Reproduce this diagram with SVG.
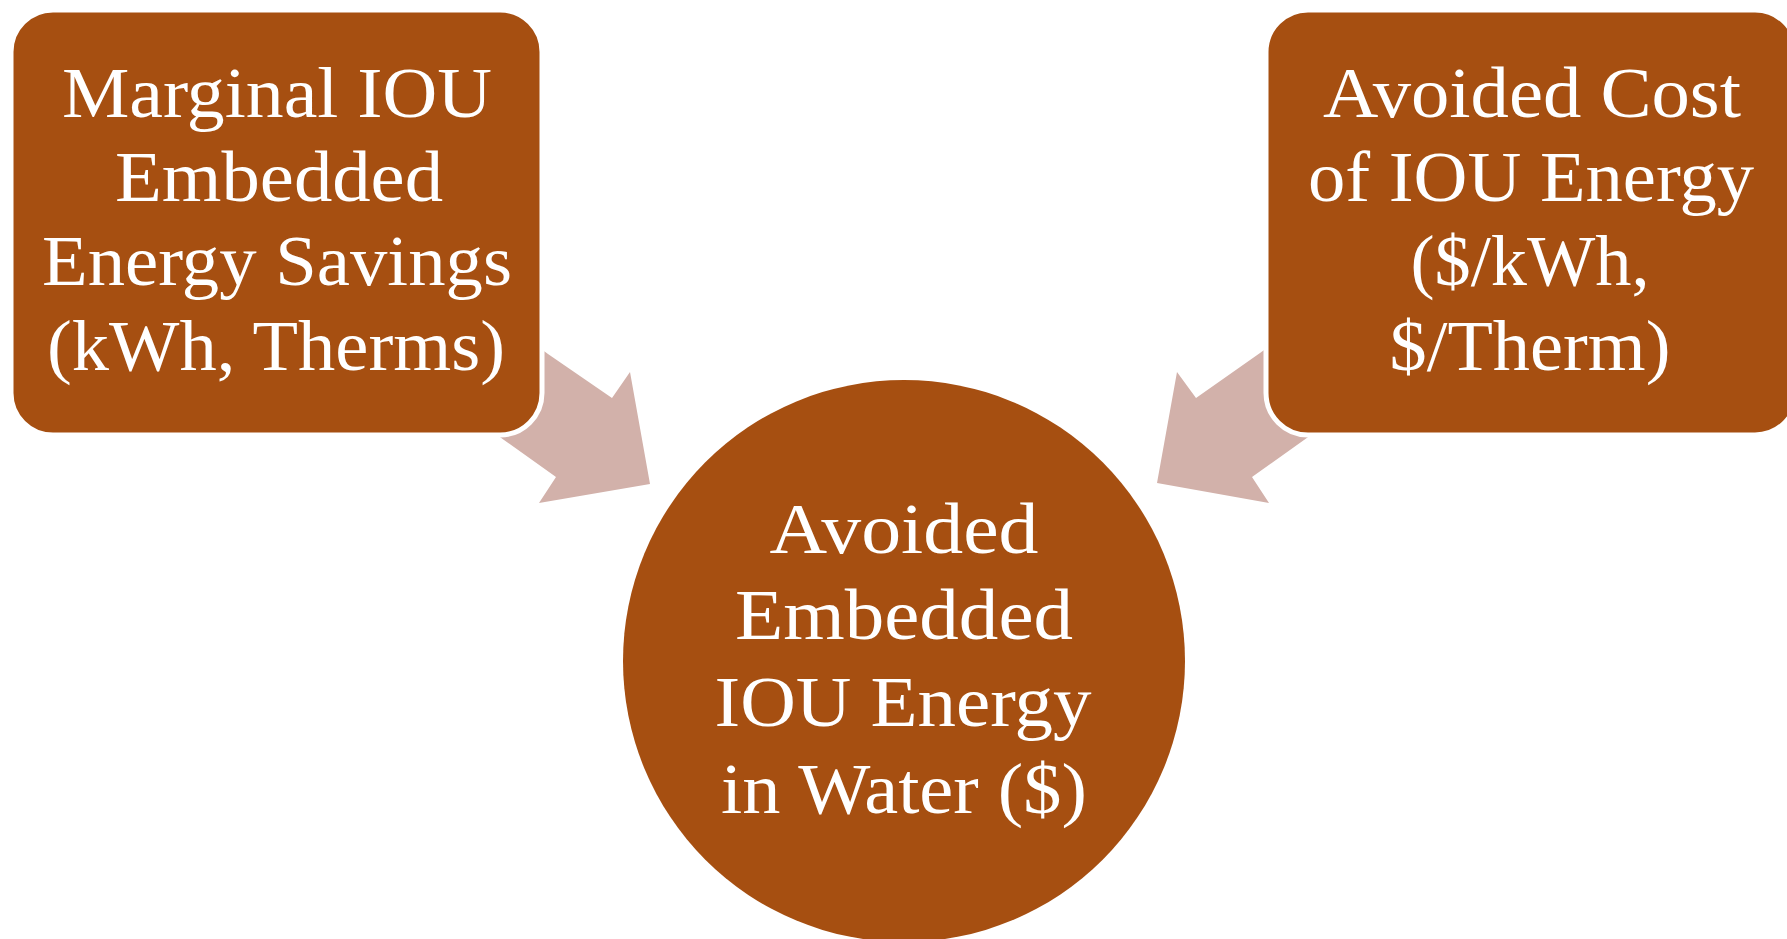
<svg xmlns="http://www.w3.org/2000/svg" width="1787" height="939" viewBox="0 0 1787 939">
<style>
.node{fill:#A64F11;stroke:#FFFFFF;stroke-width:5}
.hub{fill:#A64F11;stroke:none}
.arrow{fill:#D2B1AA;stroke:none}
.lbl{font-family:"Liberation Serif","DejaVu Serif",serif;font-size:72px;fill:#FFFFFF;text-anchor:middle}
</style>
<rect width="1787" height="939" fill="#FFFFFF"/>
<g id="connectors">
<polygon class="arrow" points="466,294 548,354 612,398 630,372 650,484 539,503 556,477 504,440 422,381"/>
<polygon class="arrow" points="1342,294 1260,353 1196,398 1177,372 1157,483 1269,503 1252,477 1304,440 1386,381"/>
</g>
<g id="node-marginal">
<rect class="node" x="11" y="10" width="531" height="425" rx="42" ry="42"/>
<text class="lbl" x="277" y="117" textLength="430" lengthAdjust="spacingAndGlyphs">Marginal IOU</text>
<text class="lbl" x="279" y="201" textLength="328" lengthAdjust="spacingAndGlyphs">Embedded</text>
<text class="lbl" x="277" y="285" textLength="470" lengthAdjust="spacingAndGlyphs">Energy Savings</text>
<text class="lbl" x="276" y="370" textLength="458" lengthAdjust="spacingAndGlyphs">(kWh, Therms)</text>
</g>
<g id="node-avoided-cost">
<rect class="node" x="1266" y="10" width="531" height="425" rx="42" ry="42"/>
<text class="lbl" x="1532" y="117" textLength="418" lengthAdjust="spacingAndGlyphs">Avoided Cost</text>
<text class="lbl" x="1531" y="201" textLength="446" lengthAdjust="spacingAndGlyphs">of IOU Energy</text>
<text class="lbl" x="1530" y="285" textLength="239" lengthAdjust="spacingAndGlyphs">($/kWh,</text>
<text class="lbl" x="1530" y="370" textLength="281" lengthAdjust="spacingAndGlyphs">$/Therm)</text>
</g>
<g id="node-avoided-embedded">
<circle class="hub" cx="904" cy="661" r="281"/>
<text class="lbl" x="904" y="553" textLength="269" lengthAdjust="spacingAndGlyphs">Avoided</text>
<text class="lbl" x="904" y="639" textLength="338" lengthAdjust="spacingAndGlyphs">Embedded</text>
<text class="lbl" x="903" y="726" textLength="377" lengthAdjust="spacingAndGlyphs">IOU Energy</text>
<text class="lbl" x="904" y="813" textLength="366" lengthAdjust="spacingAndGlyphs">in Water ($)</text>
</g>
</svg>
